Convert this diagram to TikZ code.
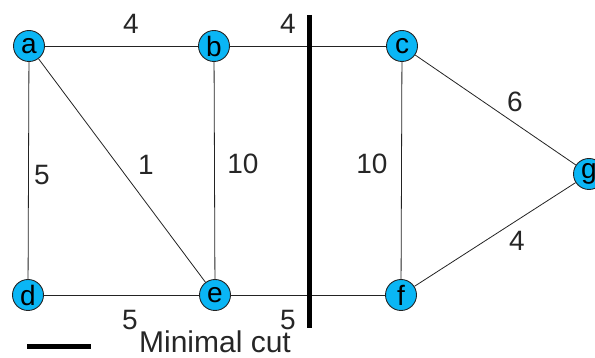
\documentclass[tikz,border=0pt]{standalone}
\usepackage{fontspec}
\setmainfont{Liberation Sans}
\definecolor{nodeblue}{RGB}{10,182,245}
\definecolor{edgegray}{RGB}{35,35,35}
\begin{document}
\begin{tikzpicture}[x=1pt,y=1pt,
  vertex/.style={circle,draw=edgegray,line width=0.9pt,fill=nodeblue,minimum size=31pt,inner sep=0pt,font=\fontsize{28}{28}\selectfont},
  edge/.style={draw=edgegray,line width=0.8pt},
  wlabel/.style={font=\fontsize{28}{28}\selectfont,text=black!85,inner sep=0pt},
  cutline/.style={draw=black,line width=5pt}]
\useasboundingbox (0,0) rectangle (595,358);
\coordinate (cuttop) at (309,343);
\coordinate (cutbot) at (309,30);
\coordinate (legl) at (27,11);
\coordinate (legr) at (91,11);
\node[vertex] (a) at (29,312) {a};
\node[vertex] (b) at (214,312) {b};
\node[vertex] (c) at (402,312) {c};
\node[vertex] (d) at (28,63) {d};
\node[vertex] (e) at (215,63) {e};
\node[vertex] (f) at (401,63) {f};
\node[vertex] (g) at (589,184) {g};
\draw[edge] (a) -- (b);
\draw[edge] (b) -- (c);
\draw[edge] (a) -- (d);
\draw[edge] (a) -- (e);
\draw[edge] (b) -- (e);
\draw[edge] (d) -- (e);
\draw[edge] (e) -- (f);
\draw[edge] (c) -- (f);
\draw[edge] (c) -- (g);
\draw[edge] (f) -- (g);
\draw[cutline] (cuttop) -- (cutbot);
\draw[cutline] (legl) -- (legr);
\node[wlabel] (l1) at (131,334) {4};
\node[wlabel] (l2) at (288,334) {4};
\node[wlabel] (l3) at (42,183) {5};
\node[wlabel] (l4) at (146,193) {1};
\node[wlabel] (l5) at (243,194) {10};
\node[wlabel] (l6) at (372,194) {10};
\node[wlabel] (l7) at (515,256) {6};
\node[wlabel] (l8) at (517,117) {4};
\node[wlabel] (l9) at (130,38) {5};
\node[wlabel] (l10) at (288,38) {5};
\node[font=\fontsize{30}{30}\selectfont,text=black!85,inner sep=0pt,anchor=base] (leg) at (215,5) {Minimal cut};
\end{tikzpicture}
\end{document}
